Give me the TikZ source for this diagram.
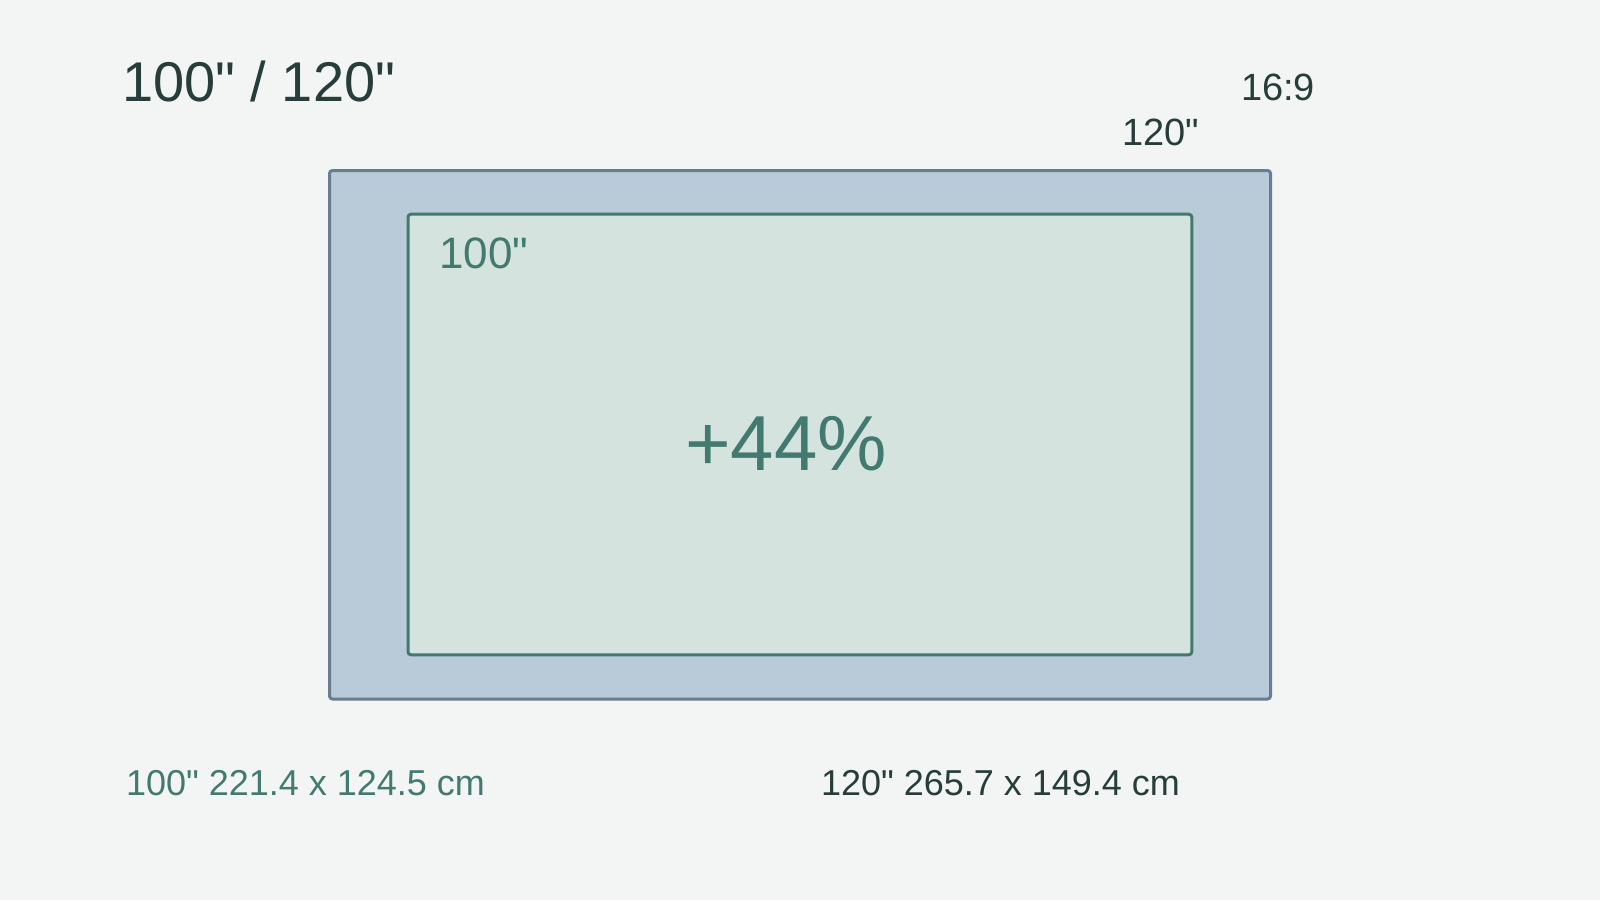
\documentclass[tikz,border=0pt]{standalone}
\usepackage{fontspec}
\setmainfont{Liberation Sans}[Ligatures=TeXOff]
\definecolor{bgc}{HTML}{F3F5F4}
\definecolor{darktxt}{HTML}{263D3A}
\definecolor{tealtxt}{HTML}{427A70}
\definecolor{outerfill}{HTML}{B9CBD8}
\definecolor{outerline}{HTML}{687D92}
\definecolor{innerfill}{HTML}{D4E3DD}
\definecolor{innerline}{HTML}{437A6F}
\tikzset{
  lbl/.style={inner sep=0pt, outer sep=0pt, anchor=base west},
  screen/.style={line width=3pt, rounded corners=3pt},
}
\newcommand{\fsz}[1]{\fontsize{#1}{#1}\selectfont}
\begin{document}
\begin{tikzpicture}[x=1pt,y=-1pt]
\fill[bgc] (0,0) rectangle (1600,900);
\useasboundingbox (0,0) rectangle (1600,900);
% screens
\draw[screen, fill=outerfill, draw=outerline] (329.5,170.5) rectangle (1270.5,699);
\draw[screen, fill=innerfill, draw=innerline] (408,214.2) rectangle (1191.8,654.8);
% labels
\node[lbl, text=darktxt] (title) at (122,101) {\fsz{56}100" / 120"};
\node[lbl, text=darktxt] (ratio) at (1241,100.7) {\fsz{38}16:9};
\node[lbl, text=darktxt] (big) at (1122,145) {\fsz{38}120"};
\node[lbl, text=tealtxt] (small) at (439.5,268.7) {\fsz{44}100"};
\node[inner sep=0pt, anchor=base, text=tealtxt] (pct) at (786,470) {\fsz{78}+44\%};
\node[lbl, text=tealtxt] (dimsmall) at (126,795) {\fsz{36}100" 221.4 x 124.5 cm};
\node[lbl, text=darktxt] (dimbig) at (821,795) {\fsz{36}120" 265.7 x 149.4 cm};
\end{tikzpicture}
\end{document}
